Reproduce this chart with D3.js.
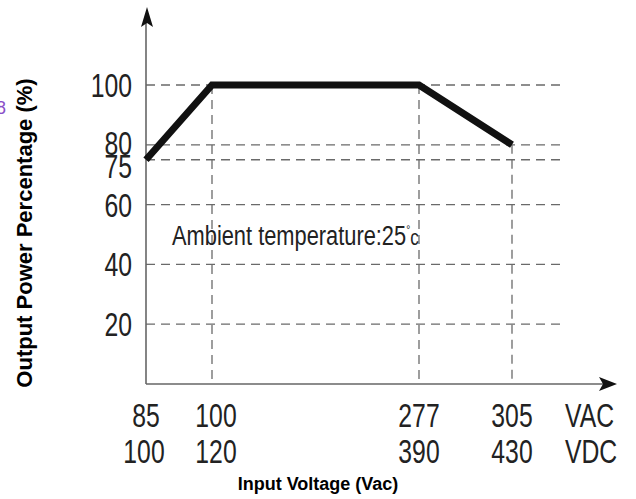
<!DOCTYPE html>
<html>
<head>
<meta charset="utf-8">
<script src="https://cdn.jsdelivr.net/npm/d3@7"></script>
<style>
  body { margin: 0; background: #fff; }
  svg { display: block; }
</style>
</head>
<body>
<div id="chart"></div>
<script>
// chart values
const vac = [85, 100, 277, 305];
const vdc = [100, 120, 390, 430];
const power = [75, 100, 100, 80];
const yTicks = [100, 80, 75, 60, 40, 20];

const width = 636, height = 499;
const tickFont = "'Liberation Sans', Arial, sans-serif";

let svg = d3.select("#chart")
    .append("svg")
    .attr("width", width)
    .attr("height", height);

// x positions are not proportional in the original, so use a piecewise scale
let x = d3.scaleLinear()
    .domain(vac)
    .range([146, 212, 419, 512]);

let y = d3.scaleLinear()
    .domain([0, 100])
    .range([384, 85]);

// condensed text helper (the original uses a tall narrow face)
function narrowText(sel, px, py, size, anchor, squeeze) {
    return sel.append("text")
        .attr("transform", `translate(${px}, ${py}) scale(${squeeze || 0.75}, 1)`)
        .attr("text-anchor", anchor || "start")
        .style("font-family", tickFont)
        .style("font-size", size + "px")
        .attr("fill", "#222");
}

// horizontal dashed guides
svg.append("g")
    .selectAll("line")
    .data(yTicks)
    .enter()
    .append("line")
    .attr("x1", x(85))
    .attr("x2", 566)
    .attr("y1", d => y(d))
    .attr("y2", d => y(d))
    .attr("stroke", "#6a6a6a")
    .attr("stroke-width", 1.3)
    .attr("stroke-dasharray", "9,6");

// vertical dashed guides from the curve down to the axis
svg.append("g")
    .selectAll("line")
    .data(vac.slice(1).map((v, i) => ({v: v, p: power[i + 1]})))
    .enter()
    .append("line")
    .attr("x1", d => x(d.v))
    .attr("x2", d => x(d.v))
    .attr("y1", d => y(d.p))
    .attr("y2", y(0))
    .attr("stroke", "#6a6a6a")
    .attr("stroke-width", 1.3)
    .attr("stroke-dasharray", "9,6");

// axes with arrowheads
svg.append("line")
    .attr("x1", x(85)).attr("x2", x(85))
    .attr("y1", y(0)).attr("y2", 22)
    .attr("stroke", "#666").attr("stroke-width", 1.6);
svg.append("path")
    .attr("d", `M${x(85) + 1},7 L${x(85) + 7},27 L${x(85) + 1},23 L${x(85) - 5},27 Z`)
    .attr("fill", "#111");

svg.append("line")
    .attr("x1", x(85)).attr("x2", 604)
    .attr("y1", y(0)).attr("y2", y(0))
    .attr("stroke", "#666").attr("stroke-width", 1.6);
svg.append("path")
    .attr("d", `M617,${y(0)} L599,${y(0) - 7} L603,${y(0)} L599,${y(0) + 7} Z`)
    .attr("fill", "#111");

// derating curve
let line = d3.line()
    .x((d, i) => x(vac[i]))
    .y(d => y(d));

svg.append("path")
    .datum(power)
    .attr("d", line)
    .attr("fill", "none")
    .attr("stroke", "#111")
    .attr("stroke-width", 7)
    .attr("stroke-linejoin", "miter");

// y tick labels (75 and 80 pushed apart as in the original)
const nudge = {80: -1.5, 75: 6.5};
yTicks.forEach(function(d) {
    narrowText(svg, 132, y(d) + (nudge[d] || 0) + 12, 33, "end").text(d);
});

// x tick labels, two rows
vac.forEach(function(d, i) {
    let shift = d == 100 ? 4 : 0;
    narrowText(svg, x(d) + shift, 427, 33, "middle").text(d);
    narrowText(svg, x(d) + shift - (i == 0 ? 2 : 0), 463, 33, "middle").text(vdc[i]);
});

narrowText(svg, 565, 427, 33).text("VAC");
narrowText(svg, 565, 463, 33).text("VDC");

// annotation
let note = narrowText(svg, 172, 245, 28, "start", 0.78).text("Ambient temperature:25");
note.append("tspan")
    .attr("dy", -11)
    .style("font-size", "13px")
    .text("°");
note.append("tspan")
    .attr("dy", 11)
    .style("font-size", "22px")
    .text("c");

// axis titles
svg.append("text")
    .attr("transform", "translate(32, 233) rotate(-90)")
    .attr("text-anchor", "middle")
    .style("font-family", "'Liberation Sans', Arial, sans-serif")
    .style("font-weight", "bold")
    .style("font-size", "22px")
    .attr("fill", "#000")
    .text("Output Power Percentage (%)");

svg.append("text")
    .attr("x", 318).attr("y", 490)
    .attr("text-anchor", "middle")
    .style("font-family", "'Liberation Sans', Arial, sans-serif")
    .style("font-weight", "bold")
    .style("font-size", "18px")
    .attr("fill", "#000")
    .text("Input Voltage (Vac)");

// clipped label fragment at the left edge
svg.append("text")
    .attr("x", 6).attr("y", 114)
    .attr("text-anchor", "end")
    .style("font-family", "'Liberation Sans', Arial, sans-serif")
    .style("font-size", "18px")
    .attr("fill", "#8a4fc8")
    .text("8");
</script>
</body>
</html>
